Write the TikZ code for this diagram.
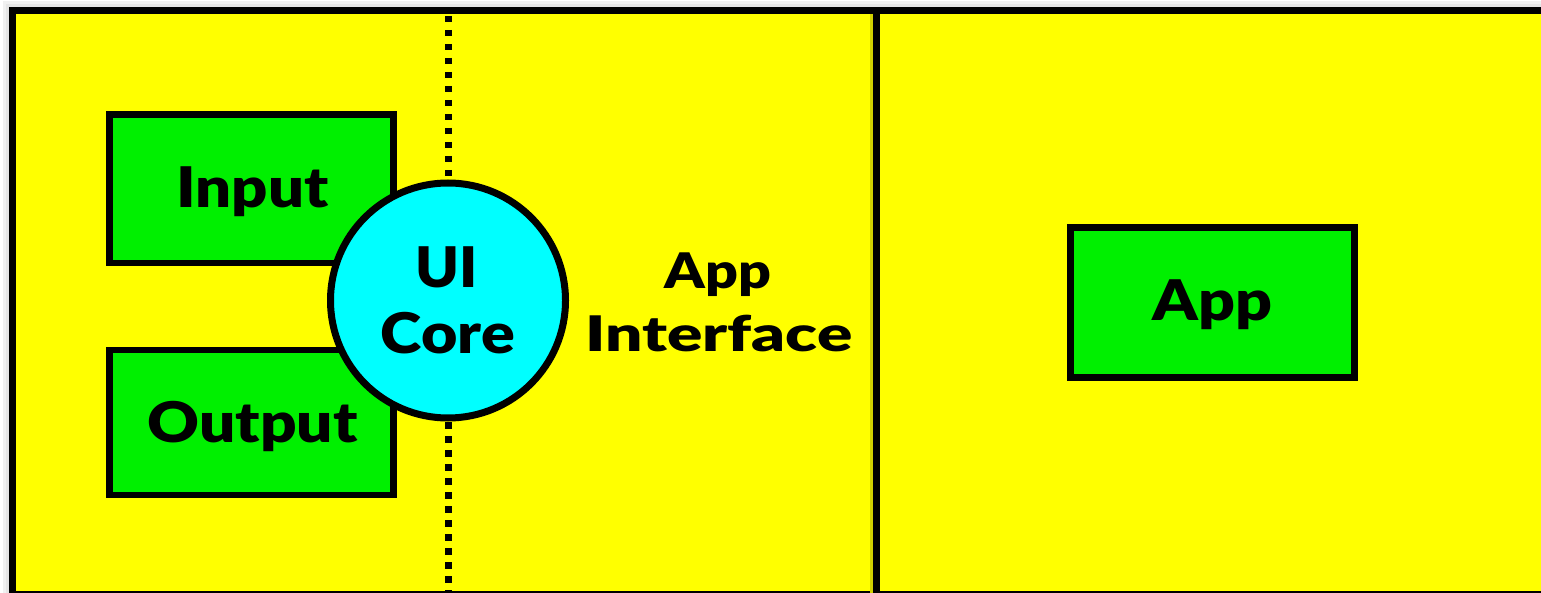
\documentclass[tikz,border=0pt]{standalone}
\usepackage{fontspec}
\usepackage{graphicx}
\setmainfont{Lato}[BoldFont={* Black}]
\definecolor{bgyellow}{HTML}{FFFF00}
\definecolor{boxgreen}{HTML}{00F000}
\definecolor{corecyan}{HTML}{00FFFF}
\newcommand\bigfont{\fontsize{56}{64}\selectfont\bfseries}
\newcommand\midfont{\fontsize{49}{64}\selectfont\bfseries}
\newcommand\wide[2]{\scalebox{#1}[1]{#2}}
\tikzset{
  greenbox/.style={draw=black, line width=6.5pt, fill=boxgreen, rectangle, inner sep=0pt},
  corecircle/.style={draw=black, line width=7pt, fill=corecyan, circle, inner sep=0pt, minimum size=235pt},
  lbl/.style={anchor=base, inner sep=0pt, text=black},
  divider/.style={draw=black, line width=7pt},
  dotline/.style={draw=black, line width=7pt, dash pattern=on 6.5pt off 7.5pt},
}
\begin{document}
\begin{tikzpicture}[x=1pt,y=-1pt]
\useasboundingbox (0,0) rectangle (1541,593);
\fill[white] (0,0) rectangle (1541,593);
% soft shadow of the frame
\draw[black!6, line width=19pt] (12.5,10.5) rectangle (1600,600);
\draw[black!10, line width=13pt] (12.5,10.5) rectangle (1600,600);
% frame
\draw[line width=7pt, fill=bgyellow] (12.5,10.5) rectangle (1600,594);
% divider
\coordinate (divtop) at (876.5,10.5);
\coordinate (divbot) at (876.5,594);
\draw[bgyellow!82!black, line width=3pt] (871.5,14) -- (871.5,594);
\draw[divider] (divtop) -- (divbot);
% dotted line
\coordinate (dottop) at (448.5,16);
\coordinate (dotbot) at (448.5,600);
\draw[dotline] (dottop) -- (dotbot);
% boxes
\node[greenbox, minimum width=284pt, minimum height=148.5pt] (input) at (251.5,188.75) {};
\node[greenbox, minimum width=284pt, minimum height=145pt] (output) at (251.5,422.5) {};
\node[corecircle] (core) at (448,300.5) {};
\node[greenbox, minimum width=284pt, minimum height=150pt] (app) at (1212.5,302.5) {};
% labels
\node[lbl] (inputlbl) at (252.5,208) {\bigfont\wide{1.13}{Input}};
\node[lbl] (outputlbl) at (252.5,442) {\bigfont\wide{1.14}{Output}};
\node[lbl] (uilbl) at (447,288) {\bigfont\wide{1.05}{UI}};
\node[lbl] (corelbl) at (448,353) {\bigfont\wide{1.12}{Core}};
\node[lbl] (applbl) at (718,289) {\midfont\wide{1.17}{App}};
\node[lbl] (interfacelbl) at (719,352) {\midfont\wide{1.34}{Interface}};
\node[lbl] (appboxlbl) at (1212.5,321) {\bigfont\wide{1.15}{App}};
\end{tikzpicture}
\end{document}
